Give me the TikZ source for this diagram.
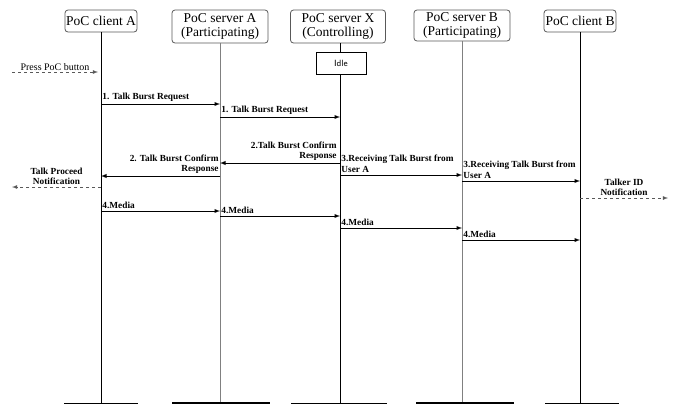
\documentclass[tikz,border=0pt]{standalone}
\usepackage{fontspec}
\setmainfont{Liberation Serif}
\usepackage{tikz}
\usetikzlibrary{arrows,positioning}

\begin{document}
\begin{tikzpicture}[
  x=1pt, y=-1pt,
  head/.style={draw=gray!70!black, line width=0.8pt, rounded corners=3pt, fill=white, align=center,
               font=\fontsize{13.5}{13.5}\selectfont, inner sep=0.5pt},
  state/.style={draw, fill=white, minimum width=50pt, minimum height=22pt,
                font=\sffamily\fontsize{9}{10}\selectfont},
  life/.style={line width=0.8pt},
  lifegray/.style={line width=0.8pt, gray},
  foot/.style={line width=0.8pt},
  footbold/.style={line width=2pt},
  msg/.style={-latex, line width=0.9pt},
  note/.style={-latex, dashed, line width=0.8pt, draw=gray!70!black},
  lbl/.style={font=\bfseries\fontsize{9.3}{10.5}\selectfont, inner sep=1pt, align=left, text=black},
  lblr/.style={lbl, align=right},
  lblc/.style={lbl, align=center},
]
\useasboundingbox (0,0) rectangle (680,405);

% lifeline heads
\node[head, minimum width=72pt, minimum height=22pt] (ca) at (101,21) {PoC client A};
\node[head, minimum width=96pt, minimum height=33pt] (sa) at (220,26.5) {PoC server A\\(Participating)};
\node[head, minimum width=95pt, minimum height=33pt] (sx) at (338,26.5) {PoC server X\\(Controlling)};
\node[head, minimum width=96pt, minimum height=31pt] (sb) at (462,25.5) {PoC server B\\(Participating)};
\node[head, minimum width=72pt, minimum height=22pt] (cb) at (580,21) {PoC client B};

% lifeline ends
\coordinate (caend) at (ca |- 0,403);
\coordinate (saend) at (sa |- 0,403);
\coordinate (sxend) at ([xshift=2pt]sx |- 0,403);
\coordinate (sbend) at (sb |- 0,403);
\coordinate (cbend) at (cb |- 0,403);
\coordinate (sxtop) at (sxend |- sx.south);

\draw[life] (ca.south) -- (caend);
\draw[lifegray] (sa.south) -- (saend);
\draw[life] (sxtop) -- (sxend);
\draw[lifegray] (sb.south) -- (sbend);
\draw[life] (cb.south) -- (cbend);

\draw[foot] ([xshift=-37pt]caend) -- ([xshift=37pt]caend);
\draw[footbold] ([xshift=-48pt]saend) -- ([xshift=50pt]saend);
\draw[foot] ([xshift=-49pt]sxend) -- ([xshift=47pt]sxend);
\draw[footbold] ([xshift=-46pt]sbend) -- ([xshift=52pt]sbend);
\draw[foot] ([xshift=-35pt]cbend) -- ([xshift=39pt]cbend);

\node[state] (idle) at (341,63) {Idle};

% press button
\coordinate (press) at (12,72);
\draw[note] (press) -- ([xshift=-3pt]ca |- press)
  node[midway, above=0pt, inner sep=1pt, font=\fontsize{10}{10}\selectfont] (pressl) {Press PoC button};

% 1. talk burst request
\draw[msg] (ca |- 0,104) -- (sa |- 0,104)
  node[lbl, pos=0, anchor=south west, yshift=1pt] (m1a) {1. Talk Burst Request};
\draw[msg] (sa |- 0,117) -- (sxend |- 0,117)
  node[lbl, pos=0, anchor=south west, yshift=1pt] (m1b) {1. Talk Burst Request};

% 2. talk burst confirm
\draw[msg] (sxend |- 0,163) -- (sa |- 0,163)
  node[lblr, pos=0, anchor=south east, xshift=-2pt, yshift=1pt] (m2a) {2.Talk Burst Confirm\\Response};
\draw[msg] (sa |- 0,176) -- (ca |- 0,176)
  node[lblr, pos=0, anchor=south east, yshift=1pt] (m2b) {2. Talk Burst Confirm\\Response};
\coordinate (proceed) at (12,187);
\draw[note] (ca |- proceed) -- (proceed)
  node[lblc, midway, above=1pt] (procl) {Talk Proceed\\Notification};

% 3. receiving talk burst
\draw[msg] (sxend |- 0,175) -- (sb |- 0,175)
  node[lbl, pos=0, anchor=south west, yshift=1pt] (m3a) {3.Receiving Talk Burst from\\User A};
\draw[msg] (sb |- 0,181) -- (cb |- 0,181)
  node[lbl, pos=0, anchor=south west, yshift=1pt] (m3b) {3.Receiving Talk Burst from\\User A};
\coordinate (talker) at (668,198);
\draw[note] (cb |- talker) -- (talker)
  node[lblc, midway, above=1pt] (talkl) {Talker ID\\Notification};

% 4. media
\draw[msg] (ca |- 0,211) -- (sa |- 0,211)
  node[lbl, pos=0, anchor=south west, yshift=1pt] (m4a) {4.Media};
\draw[msg] (sa |- 0,216) -- (sxend |- 0,216)
  node[lbl, pos=0, anchor=south west, yshift=1pt] (m4b) {4.Media};
\draw[msg] (sxend |- 0,228) -- (sb |- 0,228)
  node[lbl, pos=0, anchor=south west, yshift=1pt] (m4c) {4.Media};
\draw[msg] (sb |- 0,240) -- (cb |- 0,240)
  node[lbl, pos=0, anchor=south west, yshift=1pt] (m4d) {4.Media};
\end{tikzpicture}
\end{document}
